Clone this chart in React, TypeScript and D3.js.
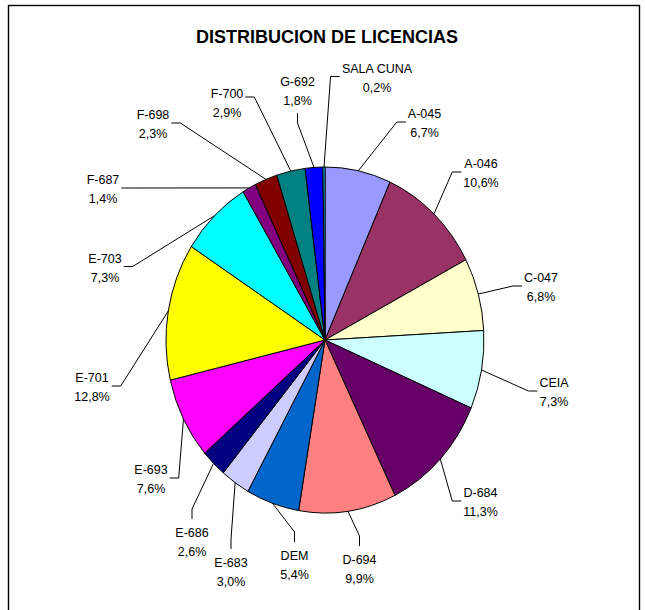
import React from "react";
import * as d3 from "d3";

const categories = [
  "A-045", "A-046", "C-047", "CEIA", "D-684", "D-694", "DEM", "E-683", "E-686",
  "E-693", "E-701", "E-703", "F-687", "F-698", "F-700", "G-692", "SALA CUNA",
];
const values = [6.7, 10.6, 6.8, 7.3, 11.3, 9.9, 5.4, 3.0, 2.6, 7.6, 12.8, 7.3, 1.4, 2.3, 2.9, 1.8, 0.2];
const pctLabels = [
  "6,7%", "10,6%", "6,8%", "7,3%", "11,3%", "9,9%", "5,4%", "3,0%", "2,6%",
  "7,6%", "12,8%", "7,3%", "1,4%", "2,3%", "2,9%", "1,8%", "0,2%",
];
const colors = [
  "#9999FF", "#993366", "#FFFFCC", "#CCFFFF", "#660066", "#FF8080", "#0066CC", "#CCCCFF", "#000080",
  "#FF00FF", "#FFFF00", "#00FFFF", "#800080", "#800000", "#008080", "#0000FF", "#00CCFF",
];

// label layout: text centre x, first baseline y, side where leader attaches
const labelLayout: { x: number; y: number; side: string; dy?: number }[] = [
  { x: 424.5, y: 118, side: "left" },
  { x: 481, y: 168, side: "left" },
  { x: 541, y: 282, side: "left" },
  { x: 554, y: 387, side: "left" },
  { x: 480.5, y: 497, side: "left" },
  { x: 359.5, y: 564, side: "top" },
  { x: 294.5, y: 560, side: "top" },
  { x: 231, y: 567, side: "top" },
  { x: 192, y: 537, side: "top" },
  { x: 151, y: 474, side: "right" },
  { x: 92, y: 382, side: "right" },
  { x: 105, y: 262.5, side: "right" },
  { x: 103, y: 184, side: "right" },
  { x: 153, y: 119, side: "right" },
  { x: 227, y: 98, side: "right", dy: -5 },
  { x: 297.5, y: 86, side: "bottom" },
  { x: 377, y: 72.5, side: "left" },
];

const W = 645;
const H = 610;
const cx = 325;
const cy = 340;
const rx = 159;
const ry = 173;
const FONT = "'Liberation Sans', Arial, sans-serif";
const FS = 12.5;
const LH = 19;

let ctx: CanvasRenderingContext2D | null = null;
function measure(t: string) {
  if (!ctx) {
    const c = document.createElement("canvas");
    ctx = c.getContext("2d");
  }
  if (!ctx) return t.length * FS * 0.55;
  ctx.font = `${FS}px 'Liberation Sans'`;
  return ctx.measureText(t).width;
}

export default function App() {
  const data = categories.map((c, i) => ({ name: c, value: values[i], pct: pctLabels[i], color: colors[i] }));
  const pie = d3.pie<any>().value((d) => d.value).sort(null);
  const arcs = pie(data);
  const arcGen = d3.arc<any>().innerRadius(0).outerRadius(1);
  const line = d3.line();

  return (
    <svg width={W} height={H} style={{ position: "absolute", left: 0, top: 0, background: "#fff" }}>
      <rect x={8.5} y={5.5} width={631} height={700} fill="#fff" stroke="#000" strokeWidth={1.4} />
      <text x={327} y={43} textAnchor="middle" fontFamily={FONT} fontWeight="bold" fontSize={18} fill="#000">
        DISTRIBUCION DE LICENCIAS
      </text>
      <g transform={`translate(${cx},${cy}) scale(${rx},${ry})`}>
        {arcs.map((a, i) => (
          <path
            key={i}
            d={arcGen(a) as string}
            fill={a.data.color}
            stroke="#000"
            strokeWidth={1}
            vectorEffect="non-scaling-stroke"
            strokeLinejoin="round"
          />
        ))}
      </g>
      {arcs.map((a, i) => {
        const L = labelLayout[i];
        const mid = (a.startAngle + a.endAngle) / 2;
        const ex = cx + rx * Math.sin(mid);
        const ey = cy - ry * Math.cos(mid);
        const w = Math.max(measure(a.data.name), measure(a.data.pct));
        let attach: [number, number];
        let elbow: [number, number];
        const midY = L.y + 4 + (L.dy || 0);
        if (L.side === "left") {
          attach = [L.x - w / 2 - 2, midY];
          elbow = [attach[0] - 9, midY];
        } else if (L.side === "right") {
          attach = [L.x + w / 2 + 2, midY];
          elbow = [attach[0] + 9, midY];
        } else if (L.side === "top") {
          attach = [L.x, L.y - 18];
          elbow = [L.x, L.y - 28];
        } else {
          attach = [L.x, L.y + LH + 8];
          elbow = [L.x, L.y + LH + 18];
        }
        return (
          <g key={i}>
            <path d={line([[ex, ey], elbow, attach]) as string} fill="none" stroke="#000" strokeWidth={1} />
            <text x={L.x} y={L.y} textAnchor="middle" fontFamily={FONT} fontSize={FS} fill="#000">
              {a.data.name}
            </text>
            <text x={L.x} y={L.y + LH} textAnchor="middle" fontFamily={FONT} fontSize={FS} fill="#000">
              {a.data.pct}
            </text>
          </g>
        );
      })}
    </svg>
  );
}
